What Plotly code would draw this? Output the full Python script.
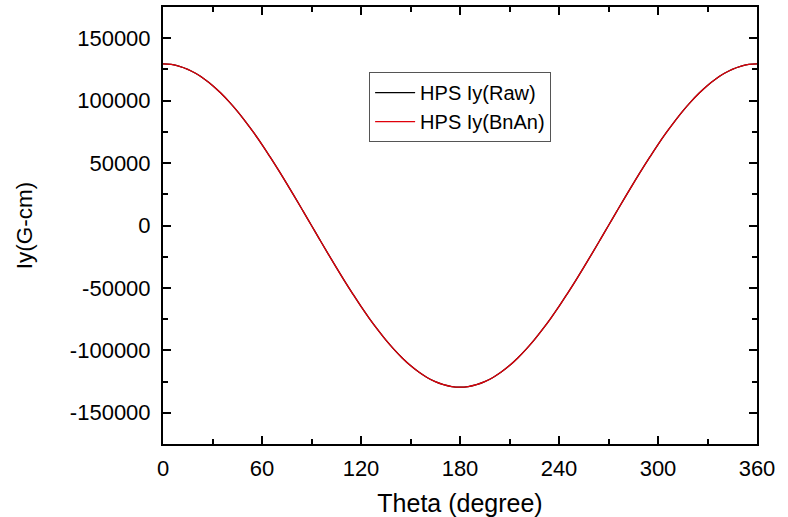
import plotly.graph_objects as go

theta = list(range(0, 361, 5))
iy_raw = [129500, 129000, 127500, 125100, 121700, 117400, 112200, 106100, 99200, 91600,
          83200, 74300, 64800, 54700, 44300, 33500, 22500, 11300, 0,
          -11300, -22500, -33500, -44300, -54700, -64800, -74300, -83200, -91600, -99200,
          -106100, -112200, -117400, -121700, -125100, -127500, -129000, -129500,
          -129000, -127500, -125100, -121700, -117400, -112200, -106100, -99200, -91600,
          -83200, -74300, -64800, -54700, -44300, -33500, -22500, -11300, 0,
          11300, 22500, 33500, 44300, 54700, 64800, 74300, 83200, 91600, 99200,
          106100, 112200, 117400, 121700, 125100, 127500, 129000, 129500]
iy_bnan = list(iy_raw)

x_ticks = [0, 60, 120, 180, 240, 300, 360]
y_ticks = [-150000, -100000, -50000, 0, 50000, 100000, 150000]

fig = go.Figure()
fig.add_trace(go.Scatter(x=theta, y=iy_raw, mode="lines", name="HPS Iy(Raw)",
                         line=dict(color="black", width=1.3, shape="spline")))
fig.add_trace(go.Scatter(x=theta, y=iy_bnan, mode="lines", name="HPS Iy(BnAn)",
                         line=dict(color="#e0000a", width=1.3, shape="spline")))

base = "Liberation Sans, Arial, sans-serif"
tick_font = dict(family=base, size=22, color="black")
axis_common = dict(showline=True, linecolor="black", linewidth=2, mirror="ticks",
                   ticks="inside", ticklen=8, tickwidth=2, tickcolor="black",
                   showgrid=False, zeroline=False, tickfont=tick_font, automargin=False)

fig.update_layout(
    width=788, height=517,
    margin=dict(l=163, r=31, t=7, b=73),
    paper_bgcolor="white", plot_bgcolor="white",
    font=dict(family=base, size=20, color="black"),
    showlegend=True,
    legend=dict(x=0.347, y=0.851, xanchor="left", yanchor="top",
                bordercolor="#555555", borderwidth=1, bgcolor="white",
                font=dict(family=base, size=20, color="black"),
                tracegroupgap=0, itemwidth=40),
    xaxis=dict(range=[0, 360], tickvals=x_ticks, ticktext=[str(v) for v in x_ticks],
               title=dict(text="Theta (degree)", font=dict(family=base, size=25, color="black"), standoff=14),
               ticklabelstandoff=4,
               minor=dict(ticks="inside", ticklen=5, tickwidth=2, tickcolor="black", dtick=30, showgrid=False),
               **axis_common),
    yaxis=dict(range=[-175000, 175000], tickvals=y_ticks, ticktext=[str(v) for v in y_ticks],
               title=dict(text="Iy(G-cm)", font=dict(family=base, size=22.5, color="black"), standoff=31),
               ticklabelstandoff=6,
               minor=dict(ticks="inside", ticklen=5, tickwidth=2, tickcolor="black", dtick=25000, tick0=0, showgrid=False),
               **axis_common),
)

fig.write_html("out.html")
